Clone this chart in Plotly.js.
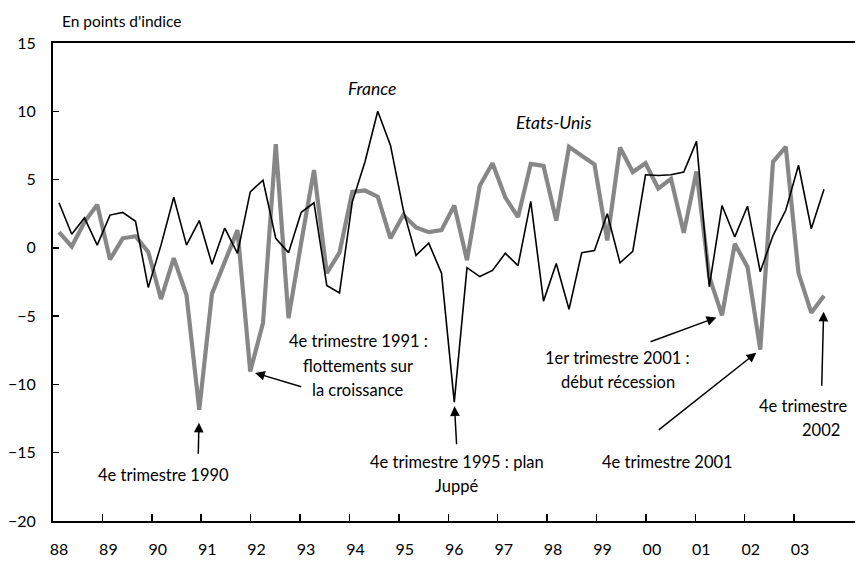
<!DOCTYPE html>
<html>
<head>
<meta charset="utf-8">
<script src="https://cdn.plot.ly/plotly-3.0.1.min.js"></script>
<style>html,body{margin:0;padding:0;background:#fff;}#chart{width:863px;height:561px;}</style>
</head>
<body>
<div id="chart"></div>
<script>
// Quarterly series, Q1 1988 .. Q1 2003 (en points d'indice)
const france = [3.3, 1.0, 2.2, 0.2, 2.4, 2.6, 1.95, -2.9, 0.2, 3.7, 0.2, 2.0,
  -1.2, 1.45, -0.4, 4.1, 4.95, 0.7, -0.35, 2.6, 3.3, -2.75, -3.3, 3.35,
  6.3, 10.0, 7.5, 2.8, -0.55, 0.35, -1.85, -11.3, -1.45, -2.1, -1.65, -0.4,
  -1.3, 3.4, -3.9, -1.15, -4.5, -0.35, -0.2, 2.5, -1.1, -0.25, 5.35, 5.3,
  5.35, 5.55, 7.8, -2.85, 3.1, 0.8, 3.05, -1.75, 0.9, 2.75, 6.05, 1.4, 4.3];
const etatsUnis = [1.15, 0.1, 1.9, 3.15, -0.85, 0.7, 0.85, -0.3, -3.75, -0.75, -3.45, -11.85,
  -3.35, -1.05, 1.3, -9.05, -5.5, 7.6, -5.15, 0.4, 5.7, -1.85, -0.35, 4.1,
  4.2, 3.75, 0.7, 2.4, 1.5, 1.15, 1.3, 3.1, -0.9, 4.55, 6.2, 3.7,
  2.25, 6.15, 6.0, 2.0, 7.4, 6.75, 6.1, 0.55, 7.35, 5.55, 6.2, 4.35,
  5.05, 1.1, 5.6, -2.1, -4.95, 0.3, -1.4, -7.45, 6.3, 7.4, -1.85, -4.75, -3.5];
const yearLabels = ['88','89','90','91','92','93','94','95','96','97','98','99','00','01','02','03'];
const yTicks = [-20, -15, -10, -5, 0, 5, 10, 15];

const quarterIndex = france.map((_, i) => i);
const yearStep = 3.875;           // axis spacing of one year label (in quarter units)
const labelPos = yearLabels.map((_, k) => k * yearStep);
const tickPos = yearLabels.map((_, k) => k * yearStep - 0.47);
const xRange = [-0.47, 62.43];

const FONT = 'Lato, "Open Sans", sans-serif';
const FS = 16.5;

const traces = [
  {x: quarterIndex, y: etatsUnis, type: 'scatter', mode: 'lines', name: 'Etats-Unis',
   line: {color: '#878787', width: 4.2}, hoverinfo: 'skip'},
  {x: quarterIndex, y: france, type: 'scatter', mode: 'lines', name: 'France',
   line: {color: '#000000', width: 1.6}, hoverinfo: 'skip'},
  {x: [tickPos[0]], y: [0], xaxis: 'x2', type: 'scatter', mode: 'markers',
   marker: {opacity: 0}, hoverinfo: 'skip', showlegend: false}
];

function txt(x, y, text, opts) {
  return Object.assign({x: x, y: y, xref: 'x', yref: 'y', text: text, showarrow: false,
    font: {family: FONT, size: FS, color: '#000'}, xanchor: 'center', yanchor: 'middle'}, opts || {});
}
function arrow(x, y, ax, ay, standoff) {
  return {x: x, y: y, xref: 'x', yref: 'y', text: ' ', showarrow: true, ax: ax, ay: ay,
    font: {size: 1}, borderpad: 0,
    arrowhead: 2, arrowsize: 1.3, arrowwidth: 1.5, arrowcolor: '#000', standoff: standoff};
}

const annotations = [
  {x: 0.0087, y: 1.046, xref: 'paper', yref: 'paper', text: "En points d'indice", showarrow: false,
   xanchor: 'left', yanchor: 'middle', font: {family: FONT, size: 15.5, color: '#000'}},
  txt(24.55, 11.68, '<i>France</i>', {font: {family: FONT, size: 17.5, color: '#000'}}),
  txt(38.75, 9.18, '<i>Etats-Unis</i>', {font: {family: FONT, size: 17.5, color: '#000'}}),
  txt(8.16, -16.63, '4e trimestre 1990'),
  txt(23.47, -6.8, '4e trimestre 1991 :'),
  txt(23.47, -8.63, 'flottements sur'),
  txt(23.47, -10.4, 'la croissance'),
  txt(31.18, -15.69, '4e trimestre 1995 : plan'),
  txt(31.18, -17.45, 'Juppé'),
  txt(43.84, -8.07, '1er trimestre 2001 :'),
  txt(43.84, -9.83, 'début récession'),
  txt(47.69, -15.69, '4e trimestre 2001'),
  txt(58.35, -11.59, '4e trimestre'),
  txt(59.76, -13.34, '2002'),
  arrow(11, etatsUnis[11], -1, 45, 13),
  arrow(15, etatsUnis[15], 51.5, 15.4, 5),
  arrow(31, france[31], 2.4, 43, 4),
  arrow(52, etatsUnis[52], -72, 26.4, 6),
  arrow(55, etatsUnis[55], -102, 80.6, 5),
  arrow(60, etatsUnis[60], -2.3, 91, 16)
];

const layout = {
  width: 863, height: 561,
  margin: {l: 53, r: 8, t: 43, b: 40},
  paper_bgcolor: '#fff', plot_bgcolor: '#fff',
  showlegend: false,
  font: {family: FONT, size: 16, color: '#000'},
  xaxis: {range: xRange, tickmode: 'array', tickvals: labelPos, ticktext: yearLabels,
    ticks: '', showgrid: false, zeroline: false, showline: true, linecolor: '#000', linewidth: 2,
    mirror: true, ticklabelstandoff: 13, tickfont: {family: FONT, size: 16, color: '#000'}},
  xaxis2: {overlaying: 'x', range: xRange, tickmode: 'array', tickvals: tickPos,
    ticks: 'inside', ticklen: 7, tickwidth: 1.5, tickcolor: '#000', showticklabels: false,
    showgrid: false, zeroline: false, showline: false, side: 'bottom'},
  yaxis: {range: [-20, 15], tickmode: 'array', tickvals: yTicks, ticks: 'inside', ticklen: 6,
    tickwidth: 1.5, tickcolor: '#000', showgrid: false, zeroline: false, showline: true,
    linecolor: '#000', linewidth: 2, ticklabelstandoff: 12,
    tickfont: {family: FONT, size: 16, color: '#000'}},
  annotations: annotations
};

Plotly.newPlot('chart', traces, layout, {staticPlot: true, displayModeBar: false});
</script>
</body>
</html>
